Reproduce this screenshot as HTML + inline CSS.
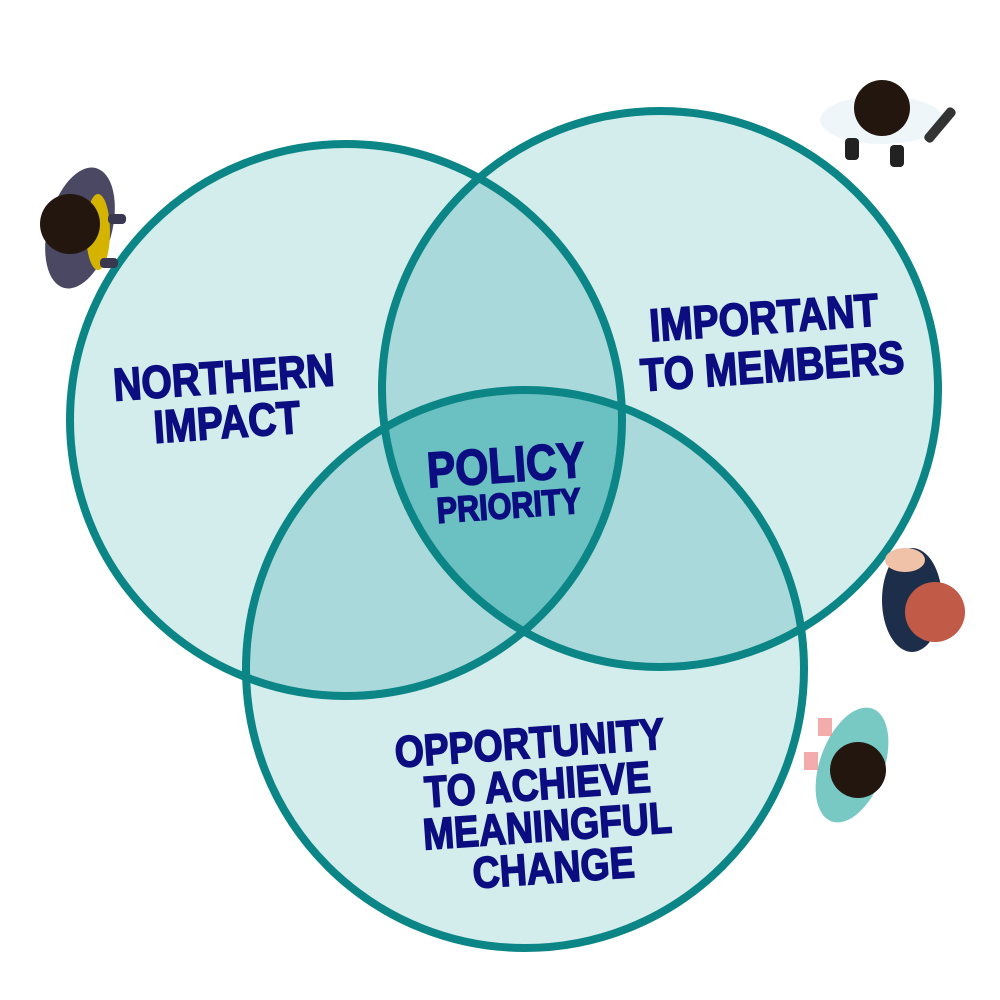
<!DOCTYPE html>
<html><head><meta charset="utf-8"><style>
html,body{margin:0;padding:0;background:#fff;}
svg{display:block}
text{font-family:"Liberation Sans Narrow","Liberation Sans",sans-serif;font-weight:bold;fill:#0b0d80;stroke:#0b0d80;stroke-width:1.6;}
</style></head><body>
<svg width="1000" height="1000" viewBox="0 0 1000 1000">
<defs>
<clipPath id="c1"><circle cx="346" cy="420" r="276"/></clipPath>
<clipPath id="c2"><circle cx="660" cy="389" r="278"/></clipPath>
<clipPath id="c3"><circle cx="525" cy="669" r="279"/></clipPath>
</defs>
<circle cx="346" cy="420" r="276" fill="#d3ecec"/>
<circle cx="660" cy="389" r="278" fill="#d3ecec"/>
<circle cx="525" cy="669" r="279" fill="#d3ecec"/>
<g clip-path="url(#c1)"><circle cx="660" cy="389" r="278" fill="#a9d9db"/></g>
<g clip-path="url(#c1)"><circle cx="525" cy="669" r="279" fill="#a9d9db"/></g>
<g clip-path="url(#c2)"><circle cx="525" cy="669" r="279" fill="#a9d9db"/></g>
<g clip-path="url(#c1)"><g clip-path="url(#c2)"><circle cx="525" cy="669" r="279" fill="#6bc0c2"/></g></g>
<g fill="none" stroke="#0b8585" stroke-width="8">
<circle cx="346" cy="420" r="276"/>
<circle cx="660" cy="389" r="278"/>
<circle cx="525" cy="669" r="279"/>
</g>
<g transform="rotate(-4 225 395)">
<g transform="translate(225 0) scale(0.85 1)">
<text x="0" y="393" font-size="46" text-anchor="middle">NORTHERN</text>
<text x="0" y="438" font-size="46" text-anchor="middle">IMPACT</text></g>
</g>
<g transform="rotate(-4 770 335)">
<g transform="translate(765 0) scale(0.85 1)">
<text x="0" y="333" font-size="46" text-anchor="middle">IMPORTANT</text>
<text x="6" y="382" font-size="46" text-anchor="middle">TO MEMBERS</text></g>
</g>
<g transform="rotate(-4 507 480)">
<g transform="translate(507 0) scale(0.85 1)">
<text x="0" y="482" font-size="50" text-anchor="middle">POLICY</text>
<text x="0" y="518" font-size="36" text-anchor="middle">PRIORITY</text></g>
</g>
<g transform="rotate(-4 530 750)">
<g transform="translate(530 0) scale(0.85 1)">
<text x="0" y="758" font-size="44" text-anchor="middle">OPPORTUNITY</text>
<text x="6" y="800" font-size="44" text-anchor="middle">TO ACHIEVE</text>
<text x="14" y="842" font-size="44" text-anchor="middle">MEANINGFUL</text>
<text x="18" y="884" font-size="44" text-anchor="middle">CHANGE</text></g>
</g>
<g>
<ellipse cx="80" cy="228" rx="32" ry="62" fill="#4a4862" transform="rotate(15 80 228)"/>
<ellipse cx="98" cy="232" rx="12" ry="38" fill="#d4b400"/>
<circle cx="70" cy="224" r="30" fill="#22160f"/>
<rect x="108" y="214" width="18" height="10" rx="4" fill="#3a3850"/>
<rect x="100" y="258" width="18" height="10" rx="4" fill="#3a3850"/>
</g>
<g>
<ellipse cx="882" cy="120" rx="62" ry="24" fill="#eef6fa"/>
<circle cx="882" cy="108" r="28" fill="#22160f"/>
<rect x="845" y="138" width="14" height="22" rx="4" fill="#222"/>
<rect x="890" y="145" width="14" height="22" rx="4" fill="#222"/>
<rect x="935" y="104" width="10" height="42" rx="4" fill="#333" transform="rotate(40 940 125)"/>
</g>
<g>
<ellipse cx="912" cy="600" rx="30" ry="52" fill="#1d2e4a"/>
<circle cx="935" cy="612" r="30" fill="#c15a46"/>
<ellipse cx="905" cy="560" rx="20" ry="12" fill="#f0c2a8"/>
</g>
<g>
<ellipse cx="852" cy="765" rx="32" ry="60" fill="#78c8c4" transform="rotate(20 852 765)"/>
<circle cx="858" cy="770" r="28" fill="#22160f"/>
<rect x="804" y="752" width="14" height="18" fill="#e88" opacity="0.7"/>
<rect x="818" y="718" width="14" height="18" fill="#e88" opacity="0.7"/>
</g>
</svg>
</body></html>
